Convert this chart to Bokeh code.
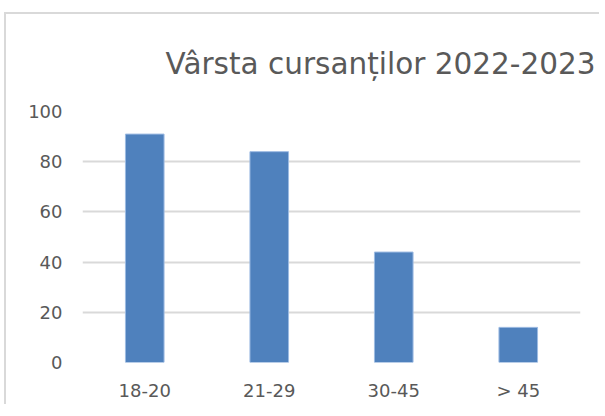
from bokeh.plotting import figure
from bokeh.models import FactorRange, Range1d, Title, FixedTicker
from bokeh.embed import file_html
from bokeh.resources import INLINE

categories = ["18-20", "21-29", "30-45", "> 45"]
values = [91, 84, 44, 14]
y_ticks = [0, 20, 40, 60, 80, 100]
title_text = "Vârsta cursanților 2022-2023"

FONT = "DejaVu Sans"
TXT = "#595959"

p = figure(
    width=595, height=392,
    x_range=FactorRange(*categories, range_padding=0),
    y_range=Range1d(0, 100),
    output_backend="svg", toolbar_location=None, tools="",
    min_border_left=76, min_border_right=21, min_border_top=10, min_border_bottom=44,
)
p.styles = {
    "margin-left": "4px",
    "margin-top": "12px",
    "border-left": "2px solid #d9d9d9",
    "border-top": "2px solid #d9d9d9",
}

p.vbar(x=categories, top=values, width=0.31, fill_color="#4f81bd",
       line_color="#9dbbe2", line_width=1)

p.title = Title(text=title_text, align="right", offset=-15, standoff=61,
                text_font=FONT, text_font_size="29.5px", text_color=TXT,
                text_font_style="normal")

p.outline_line_color = None
p.xgrid.grid_line_color = None
p.ygrid.grid_line_color = "#d9d9d9"
p.ygrid.grid_line_width = 2
p.ygrid.ticker = FixedTicker(ticks=y_ticks)

p.yaxis.ticker = FixedTicker(ticks=y_ticks)
p.yaxis.axis_line_color = None
p.yaxis.major_tick_line_color = None
p.yaxis.minor_tick_line_color = None
p.yaxis.major_label_standoff = 14
p.yaxis.major_label_text_font = FONT
p.yaxis.major_label_text_font_size = "18px"
p.yaxis.major_label_text_color = TXT

p.xaxis.axis_line_color = None
p.xaxis.major_tick_line_color = None
p.xaxis.minor_tick_line_color = None
p.xaxis.major_label_standoff = 11
p.xaxis.major_label_text_font = FONT
p.xaxis.major_label_text_font_size = "18px"
p.xaxis.major_label_text_color = TXT

open("out.html", "w").write(file_html(p, INLINE))
